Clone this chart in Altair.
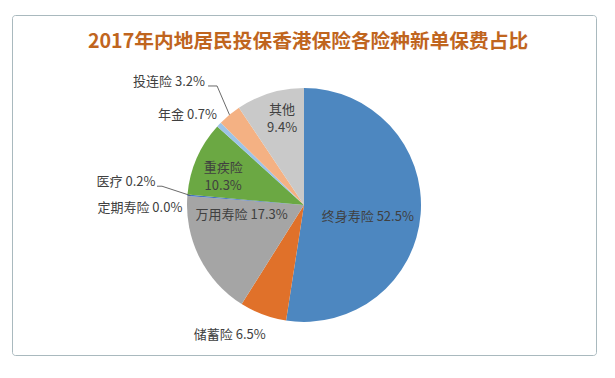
import altair as alt
import pandas as pd

# ---------------- data ----------------
categories = ["终身寿险", "储蓄险", "万用寿险", "定期寿险", "医疗", "重疾险", "年金", "投连险", "其他"]
values = [52.5, 6.5, 17.3, 0.0, 0.2, 10.3, 0.7, 3.2, 9.4]
colors = ["#4D87C0", "#E0712A", "#A5A5A5", "#FFC000", "#4472C4", "#6BA843", "#9DC3E6", "#F4B183", "#C9C9C9"]
title_text = "2017年内地居民投保香港保险各险种新单保费占比"

df = pd.DataFrame({"category": categories, "value": values, "idx": list(range(len(categories)))})
df["label"] = [f"{c} {v:.1f}%" for c, v in zip(categories, values)]
df["label2"] = [f"{c}\n{v:.1f}%" for c, v in zip(categories, values)]

# ---------------- layout / style ----------------
W, H = 584, 340
CX, CY, R = 292, 190, 117
FONT = "Noto Sans CJK SC"
TXT = "#404040"

# label placement: category, radius, dx, dy, align, two-line
label_specs = [
    ("终身寿险", 64, 0, 7, "center", False),
    ("储蓄险", 135, -27, 4, "center", False),
    ("万用寿险", 62, -7, -18, "center", False),
    ("定期寿险", 125, 3, 13, "right", False),
    ("医疗", 148, -1, -11, "right", False),
    ("重疾险", 86, -2, -3, "center", True),
    ("年金", 124, 3, -5, "right", False),
    ("投连险", 157, 1, -2, "right", False),
    ("其他", 89, 4, -10, "center", True),
]
# leader lines: category, inner radius, kink radius, kink dx, kink dy, horizontal length
leader_specs = [
    ("医疗", 114, 142, -0.5, -7, 5),
    ("投连险", 117, 147, 6.7, -5.7, 9),
]

pie = alt.Chart(df).mark_arc(radius=R).encode(
    x=alt.value(CX),
    y=alt.value(CY),
    theta=alt.Theta("value:Q", stack=True),
    order=alt.Order("idx:Q"),
    color=alt.Color("category:N", scale=alt.Scale(domain=categories, range=colors), legend=None),
)

angles = (
    alt.Chart(df)
    .transform_joinaggregate(total="sum(value)")
    .transform_window(cum="sum(value)", sort=[alt.SortField("idx")], frame=[None, 0])
    .transform_calculate(mid="(datum.cum - datum.value/2) / datum.total * 2 * PI")
)

layers = [pie]
for cat, r, dx, dy, align, two in label_specs:
    layers.append(
        angles.transform_filter(alt.datum.category == cat)
        .mark_text(radius=r, dx=dx, dy=dy, align=align, baseline="middle",
                   font=FONT, fontSize=13, color=TXT, lineBreak="\n", lineHeight=18)
        .encode(
            x=alt.value(CX),
            y=alt.value(CY),
            theta=alt.Theta("mid:Q", scale=None, stack=False),
            text=alt.Text("label2:N" if two else "label:N"),
        )
    )

for cat, rin, rk, kdx, kdy, hl in leader_specs:
    seg = angles.transform_filter(alt.datum.category == cat).transform_calculate(
        xa=f"{CX} + {rin} * sin(datum.mid)",
        ya=f"{CY} - {rin} * cos(datum.mid)",
        xk=f"{CX} + {rk} * sin(datum.mid) + {kdx}",
        yk=f"{CY} - {rk} * cos(datum.mid) + {kdy}",
        xh=f"{CX} + {rk} * sin(datum.mid) + {kdx} - {hl}",
    )
    layers.append(
        seg.mark_rule(color="#595959", strokeWidth=0.9).encode(
            x=alt.X("xa:Q", scale=None), y=alt.Y("ya:Q", scale=None),
            x2="xk:Q", y2="yk:Q",
        )
    )
    layers.append(
        seg.mark_rule(color="#595959", strokeWidth=0.9).encode(
            x=alt.X("xk:Q", scale=None), y=alt.Y("yk:Q", scale=None),
            x2="xh:Q", y2="yk:Q",
        )
    )

chart = (
    alt.layer(*layers)
    .properties(
        width=W,
        height=H,
        padding={"left": 4, "top": 7, "right": 2, "bottom": 2},
        autosize=alt.AutoSizeParams(type="none"),
        title=alt.Title(title_text, font=FONT, fontSize=19.7, fontWeight="bold",
                        color="#C0651E", anchor="middle", offset=-37, dx=4),
    )
    .configure_view(stroke="#A9B9BE", strokeWidth=1, cornerRadius=3)
)

chart.save("out.html", embed_options={"renderer": "svg", "actions": False})
